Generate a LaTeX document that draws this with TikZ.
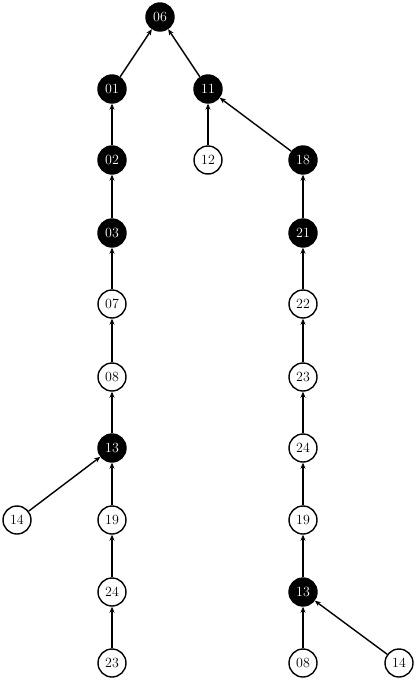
\documentclass[tikz,border=0pt]{standalone}
\usepackage{fontspec}
\usetikzlibrary{arrows.meta}
\begin{document}
\begin{tikzpicture}[x=1pt,y=-1pt,
  wnode/.style={circle,draw,line width=1.4pt,minimum size=28pt,inner sep=0pt,fill=white,font=\fontsize{14}{16}\selectfont},
  bnode/.style={circle,draw,line width=1.4pt,minimum size=28pt,inner sep=0pt,fill=black,text=white,font=\fontsize{14}{16}\selectfont},
  edge/.style={-{Stealth[length=6pt,width=5pt]},line width=1.4pt}]
\useasboundingbox (0,0) rectangle (415,680);
\node[bnode] (n06) at (160,17) {06};
\node[bnode] (n01) at (112,89) {01};
\node[bnode] (n11) at (208,89) {11};
\node[bnode] (n02) at (112,160) {02};
\node[wnode] (n12) at (208,160) {12};
\node[bnode] (n18) at (303,160) {18};
\node[bnode] (n03) at (112,233) {03};
\node[bnode] (n21) at (303,233) {21};
\node[wnode] (n07) at (112,304) {07};
\node[wnode] (n22) at (303,304) {22};
\node[wnode] (n08) at (112,377) {08};
\node[wnode] (n23) at (303,377) {23};
\node[bnode] (n13) at (112,448) {13};
\node[wnode] (n24b) at (303,448) {24};
\node[wnode] (n14) at (17,520) {14};
\node[wnode] (n19) at (112,520) {19};
\node[wnode] (n19b) at (303,520) {19};
\node[wnode] (n24) at (112,592) {24};
\node[bnode] (n13b) at (303,592) {13};
\node[wnode] (n23b) at (112,663) {23};
\node[wnode] (n08b) at (303,663) {08};
\node[wnode] (n14b) at (399,663) {14};
\draw[edge] (n01) -- (n06);
\draw[edge] (n11) -- (n06);
\draw[edge] (n02) -- (n01);
\draw[edge] (n12) -- (n11);
\draw[edge] (n18) -- (n11);
\draw[edge] (n03) -- (n02);
\draw[edge] (n21) -- (n18);
\draw[edge] (n07) -- (n03);
\draw[edge] (n22) -- (n21);
\draw[edge] (n08) -- (n07);
\draw[edge] (n23) -- (n22);
\draw[edge] (n13) -- (n08);
\draw[edge] (n24b) -- (n23);
\draw[edge] (n14) -- (n13);
\draw[edge] (n19) -- (n13);
\draw[edge] (n19b) -- (n24b);
\draw[edge] (n24) -- (n19);
\draw[edge] (n13b) -- (n19b);
\draw[edge] (n23b) -- (n24);
\draw[edge] (n08b) -- (n13b);
\draw[edge] (n14b) -- (n13b);
\end{tikzpicture}
\end{document}
